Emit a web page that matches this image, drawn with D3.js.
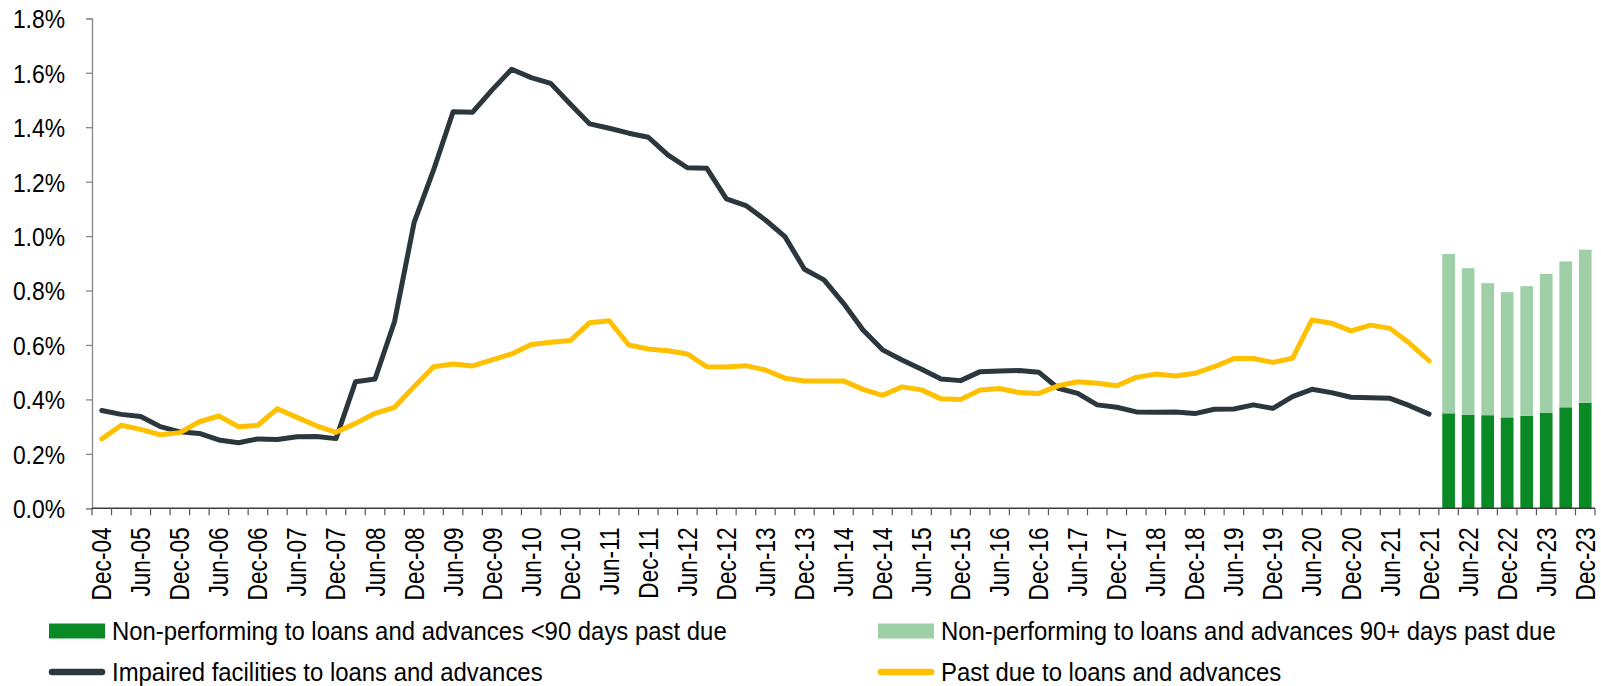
<!DOCTYPE html>
<html>
<head>
  <meta charset="utf-8">
  <script src="https://cdn.jsdelivr.net/npm/d3@7"></script>
  <style>
    body { margin: 0; background: #fff; }
    svg text { font-family: "Liberation Sans", Arial, sans-serif; fill: #000; }
  </style>
</head>
<body>
<script>
  // quarters, Dec-04 .. Dec-23
  var quarters = [
    "Dec-04",
    "Mar-05","Jun-05","Sep-05","Dec-05","Mar-06","Jun-06","Sep-06","Dec-06",
    "Mar-07","Jun-07","Sep-07","Dec-07","Mar-08","Jun-08","Sep-08","Dec-08",
    "Mar-09","Jun-09","Sep-09","Dec-09","Mar-10","Jun-10","Sep-10","Dec-10",
    "Mar-11","Jun-11","Sep-11","Dec-11","Mar-12","Jun-12","Sep-12","Dec-12",
    "Mar-13","Jun-13","Sep-13","Dec-13","Mar-14","Jun-14","Sep-14","Dec-14",
    "Mar-15","Jun-15","Sep-15","Dec-15","Mar-16","Jun-16","Sep-16","Dec-16",
    "Mar-17","Jun-17","Sep-17","Dec-17","Mar-18","Jun-18","Sep-18","Dec-18",
    "Mar-19","Jun-19","Sep-19","Dec-19","Mar-20","Jun-20","Sep-20","Dec-20",
    "Mar-21","Jun-21","Sep-21","Dec-21","Mar-22","Jun-22","Sep-22","Dec-22",
    "Mar-23","Jun-23","Sep-23","Dec-23"
  ];

  // lines run Dec-04 .. Dec-21 (%)
  var impaired = [
    0.359,0.345,0.337,0.300,0.281,0.275,0.251,0.241,0.255,0.253,0.263,0.264,0.256,
    0.465,0.475,0.686,1.049,1.243,1.457,1.455,
    1.537,1.613,1.582,1.561,1.485,1.412,1.396,1.378,1.363,1.298,1.251,1.249,1.137,1.112,1.059,0.998,0.878,0.839,0.753,
    0.655,0.582,0.545,0.511,0.475,0.469,0.502,0.504,0.506,0.500,0.441,0.422,0.380,0.371,0.354,0.353,0.354,0.348,0.364,0.365,
    0.380,0.367,0.410,0.437,0.425,0.408,0.406,0.404,0.377,0.346
  ];
  var pastDue = [
    0.255,0.305,0.290,0.270,0.278,0.318,0.339,0.300,0.305,0.366,0.334,0.303,0.279,0.312,0.349,0.371,0.447,0.520,0.530,0.523,
    0.545,0.567,0.602,0.610,0.616,0.682,0.689,0.600,0.585,0.579,0.567,0.520,0.519,0.524,0.508,0.478,0.468,0.468,0.468,
    0.437,0.415,0.446,0.435,0.402,0.400,0.435,0.440,0.425,0.422,0.450,0.465,0.459,0.450,0.481,0.493,0.486,0.496,0.520,0.550,
    0.550,0.536,0.551,0.692,0.680,0.652,0.673,0.661,0.606,0.542
  ];

  // stacked bars Mar-22 .. Dec-23 (%)
  var barQuarters = ["Mar-22","Jun-22","Sep-22","Dec-22","Mar-23","Jun-23","Sep-23","Dec-23"];
  var nplUnder90 = [0.349,0.343,0.342,0.334,0.340,0.350,0.371,0.388];
  var npl90Plus  = [0.585,0.539,0.485,0.460,0.476,0.511,0.536,0.562];

  var yTicks = [0, 0.2, 0.4, 0.6, 0.8, 1.0, 1.2, 1.4, 1.6, 1.8];

  var W = 1601, H = 686;
  var plotLeft = 92, plotRight = 1595, plotTop = 18.3, plotBottom = 508.3;

  var svg = d3.select("body").append("svg")
    .attr("width", W)
    .attr("height", H);

  var x = d3.scaleBand().domain(quarters).range([plotLeft, plotRight]).padding(0);
  var y = d3.scaleLinear().domain([0, 1.8]).range([plotBottom, plotTop]);

  // bars
  var bw = x.bandwidth() * 0.65;
  var bars = svg.append("g");
  barQuarters.forEach(function(q, i) {
    var cx = x(q) + x.bandwidth() / 2;
    bars.append("rect")
      .attr("x", cx - bw / 2).attr("width", bw)
      .attr("y", y(nplUnder90[i])).attr("height", y(0) - y(nplUnder90[i]))
      .attr("fill", "#0A8A24");
    bars.append("rect")
      .attr("x", cx - bw / 2).attr("width", bw)
      .attr("y", y(nplUnder90[i] + npl90Plus[i])).attr("height", y(nplUnder90[i]) - y(nplUnder90[i] + npl90Plus[i]))
      .attr("fill", "#9ECFA7");
  });

  // lines
  var line = d3.line()
    .x(function(d, i) { return x(quarters[i]) + x.bandwidth() / 2; })
    .y(function(d) { return y(d); });

  svg.append("path").datum(impaired)
    .attr("d", line).attr("fill", "none")
    .attr("stroke", "#2C373D").attr("stroke-width", 5)
    .attr("stroke-linejoin", "round").attr("stroke-linecap", "round");

  svg.append("path").datum(pastDue)
    .attr("d", line).attr("fill", "none")
    .attr("stroke", "#FFC000").attr("stroke-width", 5)
    .attr("stroke-linejoin", "round").attr("stroke-linecap", "round");

  // y axis (text squeezed a bit to look like Arial Narrow)
  var yAxis = svg.append("g")
    .attr("transform", "translate(" + plotLeft + ",0)")
    .call(d3.axisLeft(y).tickValues(yTicks).tickSize(6)
      .tickFormat(function(d) { return d3.format(".1f")(d) + "%"; }));
  yAxis.select(".domain").attr("stroke", "#868686").attr("stroke-width", 1.3);
  yAxis.selectAll(".tick line").attr("stroke", "#868686").attr("stroke-width", 1.3);
  yAxis.selectAll(".tick text")
    .attr("x", 0).attr("dy", "0.36em")
    .attr("transform", "translate(-27,0) scale(0.88,1)")
    .attr("font-size", 26)
    .attr("font-family", "Liberation Sans, Arial, sans-serif")
    .attr("fill", "#000");

  // x axis: ticks on category boundaries, labels for Jun/Dec
  var xg = svg.append("g");
  xg.append("line")
    .attr("x1", plotLeft).attr("x2", plotRight)
    .attr("y1", plotBottom).attr("y2", plotBottom)
    .attr("stroke", "#3c3c3c").attr("stroke-width", 1.5);
  quarters.concat(["end"]).forEach(function(q) {
    var tx = q == "end" ? plotRight : x(q);
    xg.append("line")
      .attr("x1", tx).attr("x2", tx)
      .attr("y1", plotBottom).attr("y2", plotBottom + 7)
      .attr("stroke", "#555").attr("stroke-width", 1.2);
  });
  quarters.filter(function(q) { return q.slice(0, 3) == "Dec" || q.slice(0, 3) == "Jun"; })
    .forEach(function(q) {
      var cx = x(q) + x.bandwidth() / 2;
      xg.append("text")
        .attr("transform", "translate(" + (cx + 9.5) + "," + (plotBottom + 19) + ") rotate(-90) scale(0.84,1)")
        .attr("text-anchor", "end")
        .attr("font-size", 27)
        .text(q);
    });

  // legend
  var legend = [
    {name: "Non-performing to loans and advances <90 days past due", type: "bar", color: "#0A8A24", x: 49, y: 631},
    {name: "Non-performing to loans and advances 90+ days past due", type: "bar", color: "#9ECFA7", x: 878, y: 631},
    {name: "Impaired facilities to loans and advances", type: "line", color: "#2C373D", x: 49, y: 672},
    {name: "Past due to loans and advances", type: "line", color: "#FFC000", x: 878, y: 672}
  ];
  var lg = svg.append("g");
  legend.forEach(function(d) {
    if (d.type == "bar") {
      lg.append("rect").attr("x", d.x).attr("y", d.y - 7.5)
        .attr("width", 56).attr("height", 15).attr("fill", d.color);
    } else {
      lg.append("line").attr("x1", d.x + 3).attr("x2", d.x + 53)
        .attr("y1", d.y).attr("y2", d.y)
        .attr("stroke", d.color).attr("stroke-width", 6.5).attr("stroke-linecap", "round");
    }
    lg.append("text")
      .attr("transform", "translate(" + (d.x + 63) + "," + (d.y + 9) + ") scale(0.92,1)")
      .attr("font-size", 26).text(d.name);
  });
</script>
</body>
</html>
